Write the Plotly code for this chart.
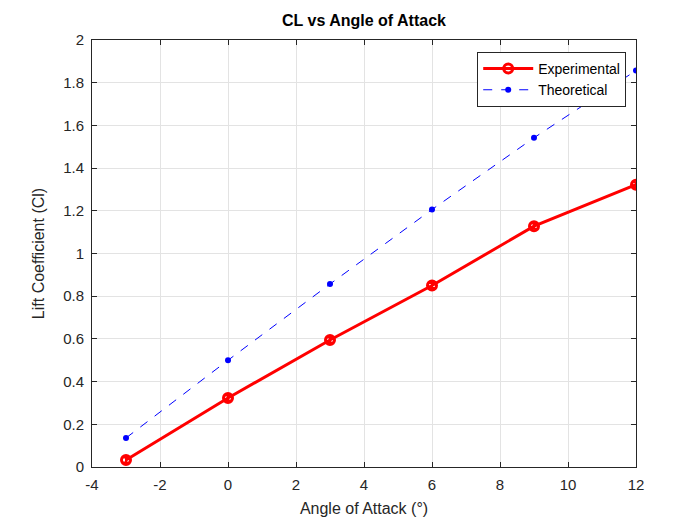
import plotly.graph_objects as go

aoa = [-3, 0, 3, 6, 9, 12]
cl_exp = [0.033, 0.323, 0.595, 0.850, 1.128, 1.322]
cl_err = [0.012, 0.012, 0.012, 0.012, 0.012, 0.012]
cl_theory = [0.136, 0.500, 0.857, 1.206, 1.542, 1.857]
x_ticks = [-4, -2, 0, 2, 4, 6, 8, 10, 12]
x_tick_labels = ["-4", "-2", "0", "2", "4", "6", "8", "10", "12"]
y_ticks = [0, 0.2, 0.4, 0.6, 0.8, 1, 1.2, 1.4, 1.6, 1.8, 2]
y_tick_labels = ["0", "0.2", "0.4", "0.6", "0.8", "1", "1.2", "1.4", "1.6", "1.8", "2"]

FONT = "Liberation Sans, Arial, Helvetica"

fig = go.Figure()
fig.add_trace(go.Scatter(
    x=aoa, y=cl_exp, mode="lines+markers", name="Experimental",
    line=dict(color="#ff0000", width=3),
    marker=dict(symbol="circle-open", size=9, color="#ff0000", line=dict(width=3)),
    error_y=dict(type="data", array=cl_err, color="#ff0000", thickness=2, width=4),
))
fig.add_trace(go.Scatter(
    x=aoa, y=cl_theory, mode="lines+markers", name="Theoretical",
    line=dict(color="#0000ff", width=1, dash="dash"),
    marker=dict(symbol="circle", size=6, color="#0000ff"),
))

axis_common = dict(
    showgrid=True, gridcolor="#e3e3e3", gridwidth=1,
    showline=True, linecolor="#262626", linewidth=1, mirror="ticks",
    ticks="inside", ticklen=5, tickcolor="#262626",
    zeroline=False,
    tickfont=dict(family=FONT, size=15, color="#262626"),
)

fig.update_layout(
    width=700, height=525,
    margin=dict(l=92, r=64, t=40, b=58),
    paper_bgcolor="white", plot_bgcolor="white",
    title=dict(text="<b>CL vs Angle of Attack</b>", x=0.5, xanchor="center",
               xref="paper", y=0.962, yanchor="middle",
               font=dict(family=FONT, size=16, color="#000000")),
    xaxis=dict(range=[-4, 12], tickmode="array", tickvals=x_ticks, ticktext=x_tick_labels,
               ticklabelstandoff=4, **axis_common,
               title=dict(text="Angle of Attack (°)", standoff=10,
                          font=dict(family=FONT, size=16, color="#262626"))),
    yaxis=dict(range=[0, 2], tickmode="array", tickvals=y_ticks, ticktext=y_tick_labels,
               ticklabelstandoff=4, **axis_common,
               title=dict(text="Lift Coefficient (Cl)", standoff=14,
                          font=dict(family=FONT, size=16, color="#262626"))),
    legend=dict(x=0.982, y=0.972, xanchor="right", yanchor="top",
                bordercolor="#262626", borderwidth=1, bgcolor="white",
                font=dict(family=FONT, size=14, color="#000000"),
                tracegroupgap=0, itemwidth=50),
    showlegend=True,
)

fig.write_html("out.html")
